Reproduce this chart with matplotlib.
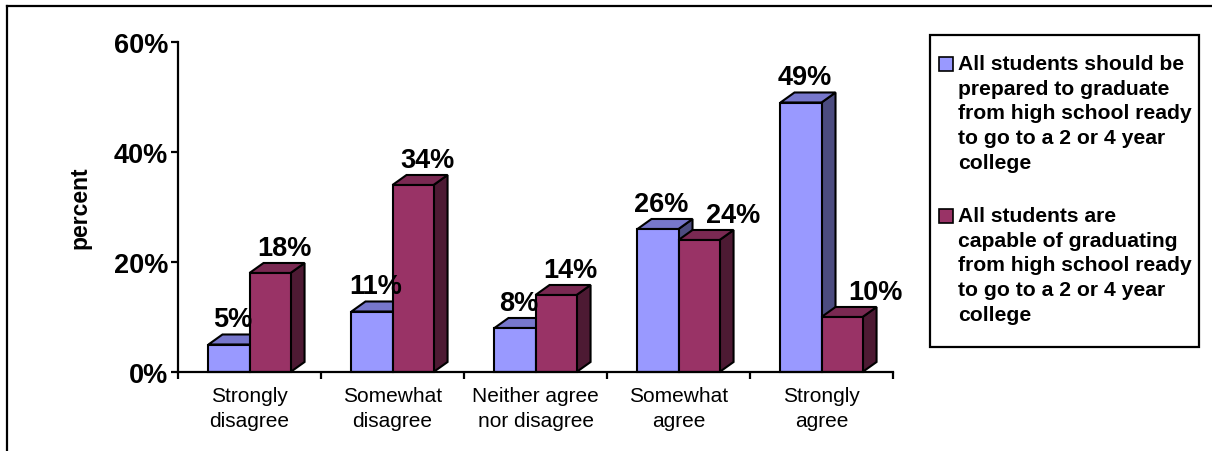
import matplotlib
matplotlib.use("Agg")
import matplotlib.pyplot as plt
from matplotlib.patches import Polygon, Rectangle
from matplotlib.lines import Line2D

categories = ["Strongly\ndisagree", "Somewhat\ndisagree", "Neither agree\nnor disagree",
              "Somewhat\nagree", "Strongly\nagree"]
should_be_prepared = [5, 11, 8, 26, 49]
capable_of_graduating = [18, 34, 14, 24, 10]
series_names = [
    "All students should be\nprepared to graduate\nfrom high school ready\nto go to a 2 or 4 year\ncollege",
    "All students are\ncapable of graduating\nfrom high school ready\nto go to a 2 or 4 year\ncollege",
]
y_ticks = [0, 20, 40, 60]

# front / top / side shades for each series
blue = ("#9999FF", "#7777CC", "#4C4C80")
red = ("#993366", "#7A2952", "#4D1A33")

W, H = 1212, 452
plt.rcParams["font.family"] = ["Liberation Sans", "DejaVu Sans"]
fig = plt.figure(figsize=(W / 100, H / 100), dpi=100)


def fx(px):
    return px / W


def fy(py):
    return 1 - py / H


ax = fig.add_axes([fx(178), fy(373), fx(893) - fx(178), fy(43) - fy(373)])
ax.set_xlim(-0.5, len(categories) - 0.5)
ax.set_ylim(0, 60)

bar_w = 0.287
dx = 0.098   # depth offset in x (category units)
dy = 1.82    # depth offset in y (percent units)


def bar3d(x0, v, shades):
    front, top, side = shades
    kw = dict(edgecolor="black", linewidth=1.5, joinstyle="miter", clip_on=False)
    ax.add_patch(Polygon([(x0 + bar_w, 0), (x0 + bar_w + dx, dy),
                          (x0 + bar_w + dx, v + dy), (x0 + bar_w, v)], facecolor=side, **kw))
    ax.add_patch(Polygon([(x0, v), (x0 + bar_w, v), (x0 + bar_w + dx, v + dy),
                          (x0 + dx, v + dy)], facecolor=top, **kw))
    ax.add_patch(Rectangle((x0, 0), bar_w, v, facecolor=front, **kw))


for i, (b, r) in enumerate(zip(should_be_prepared, capable_of_graduating)):
    bar3d(i - bar_w, b, blue)
    bar3d(i, r, red)
    ax.text(i - bar_w / 2 + dx / 4, b + dy + 1.5, f"{b}%", ha="center", va="baseline",
            fontsize=19.5, fontweight="bold")
    shift = dx if r >= b else 2.4 * dx
    ax.text(i + bar_w / 2 + shift, r + dy + 1.5, f"{r}%", ha="center", va="baseline",
            fontsize=19.5, fontweight="bold")

for s in ["top", "right"]:
    ax.spines[s].set_visible(False)
for s in ["left", "bottom"]:
    ax.spines[s].set_linewidth(1.6)

ax.set_yticks(y_ticks)
ax.set_yticklabels([f"{t}%" for t in y_ticks], fontsize=19.5, fontweight="bold")
ax.tick_params(axis="y", direction="out", length=5, width=1.6, pad=2)
ax.set_xticks(range(len(categories)))
ax.set_xticklabels(categories, fontsize=15, linespacing=1.42)
ax.set_xticks([i - 0.5 for i in range(len(categories) + 1)], minor=True)
ax.tick_params(axis="x", which="major", length=0, pad=10)
ax.tick_params(axis="x", which="minor", direction="out", length=5, width=1.6)
fig.text(fx(80), fy(208), "percent", rotation=90, ha="center", va="center",
         fontsize=16.5, fontweight="bold")

# legend box drawn in figure pixels
fig.patches.append(Rectangle((fx(930), fy(348)), fx(1199) - fx(930), fy(36) - fy(348),
                             transform=fig.transFigure, facecolor="white",
                             edgecolor="black", linewidth=1.6))
for name, shades, top_px in zip(series_names, [blue, red], [58, 210]):
    fig.patches.append(Rectangle((fx(939), fy(top_px + 14)), fx(14), fy(0) - fy(14),
                                 transform=fig.transFigure, facecolor=shades[0],
                                 edgecolor="black", linewidth=1.2))
    fig.text(fx(958), fy(top_px - 3), name, ha="left", va="top", fontsize=15.2,
             fontweight="bold", linespacing=1.38)

# outer chart frame (left and top edges)
fig.add_artist(Line2D([fx(7), fx(7)], [0, fy(7)], color="black", linewidth=1.6,
                      transform=fig.transFigure))
fig.add_artist(Line2D([fx(7), 1], [fy(7), fy(7)], color="black", linewidth=1.6,
                      transform=fig.transFigure))

fig.savefig("out.png", dpi=100)
